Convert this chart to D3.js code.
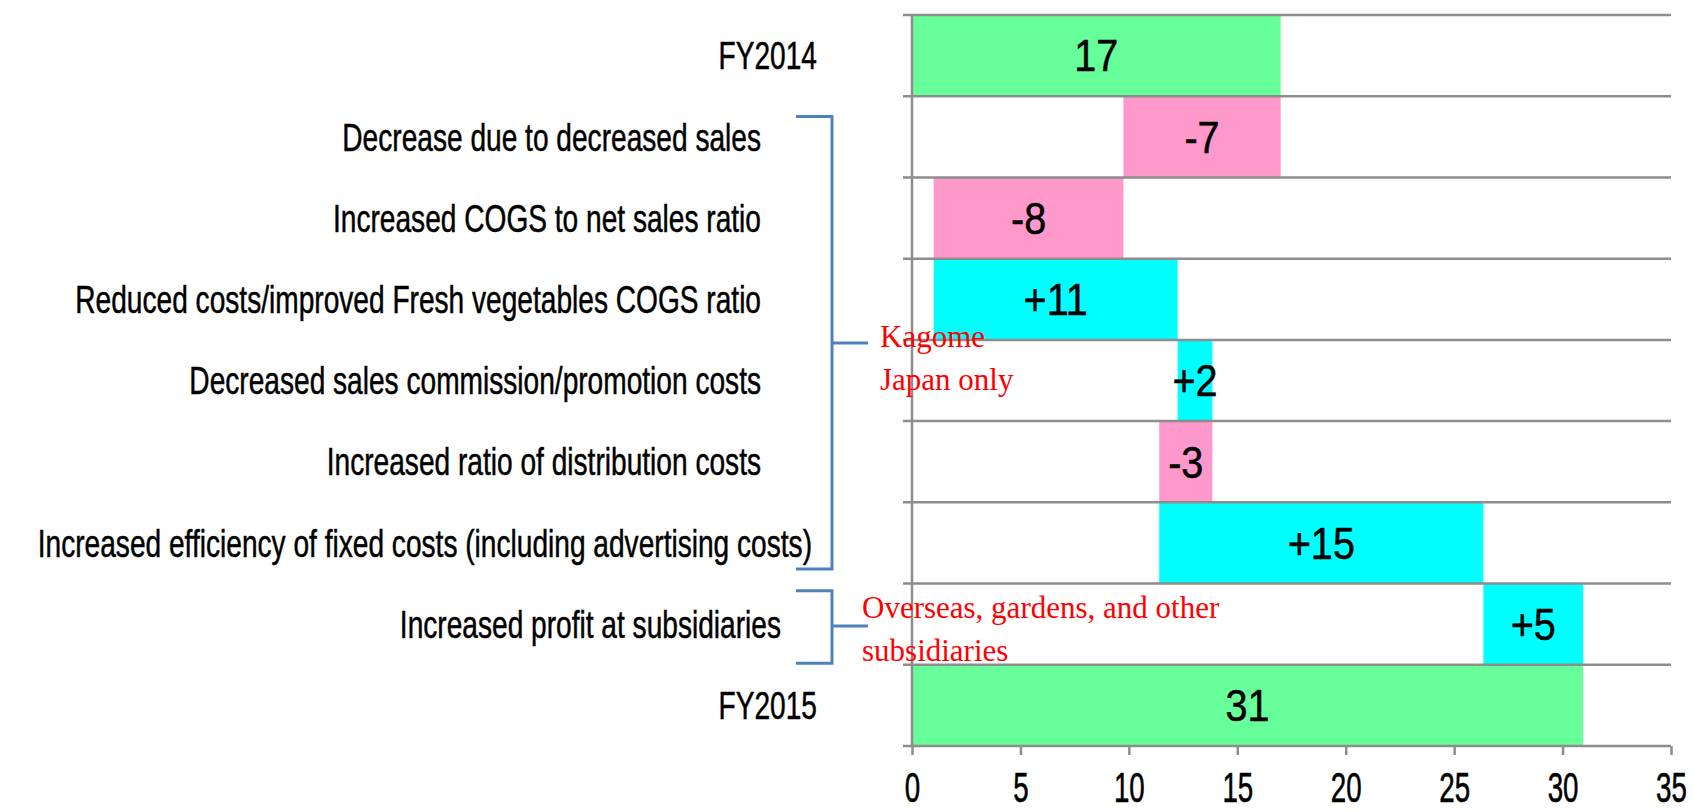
<!DOCTYPE html>
<html>
<head>
<meta charset="utf-8">
<script src="https://cdn.jsdelivr.net/npm/d3@7"></script>
<style>
  body { margin: 0; background: #fff; }
  svg { display: block; }
</style>
</head>
<body>
<div id="chart"></div>
<script>
// categories, top to bottom
var categories = [
  'FY2014',
  'Decrease due to decreased sales',
  'Increased COGS to net sales ratio',
  'Reduced costs/improved Fresh vegetables COGS ratio',
  'Decreased sales commission/promotion costs',
  'Increased ratio of distribution costs',
  'Increased efficiency of fixed costs (including advertising costs)',
  'Increased profit at subsidiaries',
  'FY2015'
];
// totals are absolute, the rest are changes
var kinds = ['total', 'delta', 'delta', 'delta', 'delta', 'delta', 'delta', 'delta', 'total'];
var values = [17, -7.25, -8.75, 11.25, 1.6, -2.45, 14.95, 4.6, 30.95];
var valueLabels = ['17', '-7', '-8', '+11', '+2', '-3', '+15', '+5', '31'];
var xTicks = [0, 5, 10, 15, 20, 25, 30, 35];

// right edge of each category label
var labelEnd = [817, 761, 761, 761, 761, 761, 812, 781, 817];

var width = 1693, height = 812;
var gridColor = '#8d8d8d';
var bracketColor = '#4f81bd';
var fillColor = { total: '#66ff99', down: '#ff99cc', up: '#00ffff' };

var x = d3.scaleLinear().domain([0, 35]).range([912, 1671]);
var y = d3.scaleBand().domain(categories).range([15, 746]).padding(0);

// running total -> bar start / end
var running = 0;
var bars = categories.map(function (c, i) {
  var from, to;
  if (kinds[i] === 'total') {
    from = 0; to = values[i]; running = values[i];
  } else {
    from = running; to = running + values[i]; running = to;
  }
  var type = kinds[i] === 'total' ? 'total' : (values[i] < 0 ? 'down' : 'up');
  return { cat: c, from: from, to: to, type: type, label: valueLabels[i] };
});

var svg = d3.select('#chart').append('svg')
  .attr('width', width)
  .attr('height', height);

// bars
svg.selectAll('rect.bar')
  .data(bars)
  .enter()
  .append('rect')
  .attr('class', 'bar')
  .attr('x', function (d) { return x(Math.min(d.from, d.to)); })
  .attr('y', function (d) { return y(d.cat); })
  .attr('width', function (d) { return Math.abs(x(d.to) - x(d.from)); })
  .attr('height', y.bandwidth())
  .attr('fill', function (d) { return fillColor[d.type]; });

// horizontal grid lines at row boundaries
var bounds = categories.map(function (c) { return y(c); }).concat([y.range()[1]]);
svg.selectAll('line.grid')
  .data(bounds)
  .enter()
  .append('line')
  .attr('class', 'grid')
  .attr('x1', x(0) - 9)
  .attr('x2', x(35))
  .attr('y1', function (d) { return d; })
  .attr('y2', function (d) { return d; })
  .attr('stroke', gridColor)
  .attr('stroke-width', 2.5);

// vertical axis line
svg.append('line')
  .attr('x1', x(0)).attr('x2', x(0))
  .attr('y1', y.range()[0]).attr('y2', y.range()[1])
  .attr('stroke', gridColor)
  .attr('stroke-width', 2.5);

// x axis
var xAxis = d3.axisBottom(x)
  .tickValues(xTicks)
  .tickSize(9)
  .tickSizeOuter(0);
var gx = svg.append('g')
  .attr('transform', 'translate(0,' + y.range()[1] + ')')
  .call(xAxis);
gx.select('.domain').remove();
gx.selectAll('.tick line')
  .attr('stroke', gridColor)
  .attr('stroke-width', 2.5);
gx.selectAll('.tick text')
  .attr('y', 56)
  .attr('dy', 0)
  .attr('transform', 'scale(0.66,1)')
  .attr('fill', '#000')
  .attr('stroke', '#000')
  .attr('stroke-width', 0.6)
  .style('font-family', '"Liberation Sans", Arial, sans-serif')
  .style('font-size', '42px');

// value labels inside bars
svg.selectAll('text.value')
  .data(bars)
  .enter()
  .append('text')
  .attr('class', 'value')
  .attr('transform', function (d) {
    return 'translate(' + x((d.from + d.to) / 2) + ',' + (y(d.cat) + y.bandwidth() / 2) + ') scale(0.9,1)';
  })
  .attr('dy', '0.36em')
  .attr('text-anchor', 'middle')
  .attr('stroke', '#000')
  .attr('stroke-width', 0.5)
  .style('font-family', '"Liberation Sans", Arial, sans-serif')
  .style('font-size', '44px')
  .text(function (d) { return d.label; });

// category labels (tall condensed look)
svg.selectAll('text.cat')
  .data(categories)
  .enter()
  .append('text')
  .attr('class', 'cat')
  .attr('transform', function (d, i) {
    return 'translate(' + labelEnd[i] + ',' + (y(d) + y.bandwidth() / 2) + ') scale(0.74,1)';
  })
  .attr('dy', '0.36em')
  .attr('text-anchor', 'end')
  .attr('stroke', '#000')
  .attr('stroke-width', 0.5)
  .style('font-family', '"Liberation Sans", Arial, sans-serif')
  .style('font-size', '38px')
  .text(function (d) { return d; });

// brackets with red notes
var notes = [
  { first: categories[1], last: categories[6], top: 0.25, bottom: 0.82, mid: 343, tx: 880,
    lines: ['Kagome', 'Japan only'], ty: 347 },
  { first: categories[7], last: categories[7], top: 0.09, bottom: 0.98, mid: 626, tx: 862,
    lines: ['Overseas, gardens, and other', 'subsidiaries'], ty: 618 }
];
var bx = 832;
notes.forEach(function (n) {
  var y0 = y(n.first) + y.bandwidth() * n.top;
  var y1 = y(n.last) + y.bandwidth() * n.bottom;
  svg.append('path')
    .attr('d', 'M' + (bx - 36) + ',' + y0 + 'H' + bx + 'V' + y1 + 'H' + (bx - 36) +
      'M' + bx + ',' + n.mid + 'H' + (bx + 36))
    .attr('fill', 'none')
    .attr('stroke', bracketColor)
    .attr('stroke-width', 3);
  var t = svg.append('text')
    .attr('x', n.tx)
    .attr('y', n.ty)
    .attr('fill', '#ff0000')
    .style('font-family', '"Liberation Serif", "Times New Roman", serif')
    .style('font-size', '31px');
  t.selectAll('tspan')
    .data(n.lines)
    .enter()
    .append('tspan')
    .attr('x', n.tx)
    .attr('dy', function (d, i) { return i === 0 ? 0 : 43; })
    .text(function (d) { return d; });
});
</script>
</body>
</html>
